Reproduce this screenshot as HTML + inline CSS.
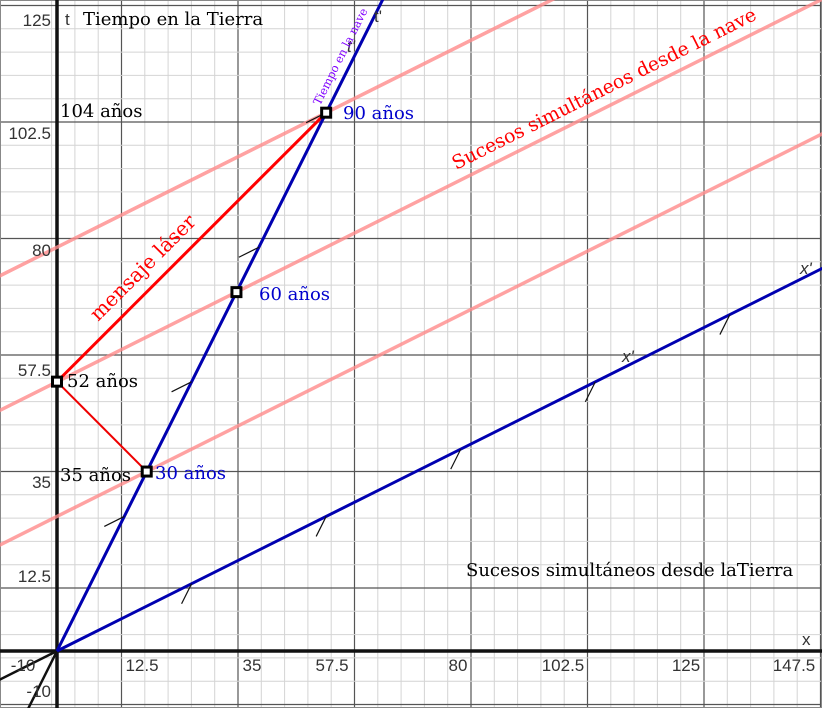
<!DOCTYPE html>
<html><head><meta charset="utf-8"><style>
body{margin:0;background:#fff}
svg{display:block}
.tk{font-family:"Liberation Sans",sans-serif;font-size:17px;fill:#333}
.sf{font-family:"DejaVu Serif","Liberation Serif",serif;font-size:18px}
</style></head><body>
<svg id="c" width="822" height="708" viewBox="0 0 822 708">
<g id="grid"></g>
<g id="marks"></g>
<g id="labels"></g>
</svg>
<script>
const velocity = [0.5];
const properTimes = [30, 60, 90];
const simulLabels = ["30 años","60 años","90 años"];
const xTicks = [-10,12.5,35,57.5,80,102.5,125,147.5];
const yTicks = [-10,12.5,35,57.5,80,102.5,125];
const tickStep = [22.5];
const earthEvents = [52, 104, 35];

const NS="http://www.w3.org/2000/svg";
const ox=57, oy=651, k=5.18;
const X=x=>ox+x*k, Y=t=>oy-t*k;
const g=document.getElementById('grid'), m=document.getElementById('marks'), L=document.getElementById('labels');
function el(p,tag,a){const e=document.createElementNS(NS,tag);for(const q in a)e.setAttribute(q,a[q]);p.appendChild(e);return e;}
function line(p,x1,y1,x2,y2,st,w){return el(p,'line',{x1,y1,x2,y2,stroke:st,'stroke-width':w});}
for(let i=-3;i<40;i++){const px=121.5+i*23.3; if(px<0||px>822)continue;
 const l=line(g,px,0,px,708,i%5==0?'#555':'#d4d4d4',i%5==0?1.2:1);
 
 }
for(let i=-6;i<30;i++){const py=122+i*23.3; if(py<0||py>708)continue;
 const l=line(g,0,py,822,py,i%5==0?'#555':'#d4d4d4',i%5==0?1.2:1);
 
 }
el(g,'rect',{x:0.5,y:0.5,width:821,height:707,fill:'none',stroke:'#888','stroke-width':1});
let a=line(g,ox,0,ox,708,'#111',3.5);
a=line(g,0,oy,822,oy,'#111',3.5);

const v=velocity[0], gam=1/Math.sqrt(1-v*v);
const ev=tau=>({t:tau*gam,x:tau*gam*v});
properTimes.forEach(tau=>{const e=ev(tau);const c=e.t-v*e.x;
 const l=line(m,X(-12),Y(c+v*-12),X(160),Y(c+v*160),'#ff8c8c',3.5);l.setAttribute('opacity','0.8');
 
 });
line(m,X(0),Y(0),X(-12),Y(-12*v),'#111',2.5);
line(m,X(0),Y(0),X(-12*v),Y(-12),'#111',2.5);
const e1={t:earthEvents[0],x:0}, e2=ev(properTimes[2]), e3=ev(properTimes[0]);
let r=line(m,X(0),Y(e1.t),X(e2.x),Y(e2.t),'#f00',3);
r=line(m,X(0),Y(e1.t),X(e3.x),Y(e3.t),'#e00',2);
let b=line(m,X(0),Y(0),X(130*v),Y(130),'#0000b0',3);
b=line(m,X(0),Y(0),X(160),Y(160*v),'#0000b0',3);
const st=tickStep[0];
for(let n=1;n<=6;n++){const tau=n*st;const e=ev(tau);
 if(e.t<125){const px=X(e.x),py=Y(e.t);const tk=line(m,px,py,px-20,py+10,'#111',1.2);}
 const px=X(e.t),py=Y(e.x);if(px<815){const tk=line(m,px,py,px-10,py+20,'#111',1.2);}}
[e1,ev(properTimes[0]),ev(properTimes[1]),ev(properTimes[2])].forEach(e=>{
 const s=el(m,'rect',{x:X(e.x)-4.5,y:Y(e.t)-4.5,width:9,height:9,fill:'#fff',stroke:'#000','stroke-width':3});
 
 });
function txt(p,x,y,s,cls,extra){const t=el(p,'text',Object.assign({x,y,class:cls},extra||{}));t.textContent=s;return t;}
const xLabelX=[23,142,252,332,458,563,686,794];
xTicks.forEach((v2,i)=>{const t=txt(L,xLabelX[i],671,String(v2),'tk',{'text-anchor':'middle'});});
const yLabelY=[697,582,488,376,256,139,26];
yTicks.forEach((v2,i)=>{const t=txt(L,51,yLabelY[i],String(v2),'tk',{'text-anchor':'end'});});
function lab(x,y,s,fill,name,extra,cls,style){const t=txt(L,x,y,s,cls||'sf',Object.assign({fill},extra||{}));if(style)t.setAttribute('style',style);return t;}
lab(65,25,'t','#111','t-axis-label',{},'tk');
lab(83,25,'Tiempo en la Tierra','#000','earth-time-title');
lab(802,645,'x','#111','x-axis-label',{},'tk');
lab(374,22,"t'",'#111','t-prime-label',{},'tk');
lab(800,274,"x'",'#111','x-prime-label',{'font-style':'italic'},'tk');
lab(622,362,"x'",'#111','x-prime-label-2',{'font-style':'italic'},'tk');
lab(347,52,"t'",'#111','t-prime-label-2',{'font-style':'italic'},'tk');
lab(60,117,'104 años','#000','label-104');
lab(67,387,'52 años','#000','label-52');
lab(60,481,'35 años','#000','label-35');
const lp=[[155,479],[259,300],[343,119]];
properTimes.forEach((p,i)=>lab(lp[i][0],lp[i][1],simulLabels[i],'#00c','proper-time-label'));
lab(466,576,'Sucesos simultáneos desde laTierra','#000','earth-simultaneity-label');
lab(456,170,'Sucesos simultáneos desde la nave','#f00','ship-simultaneity-label',{transform:'rotate(-26.6 456 170)'},'sf','font-size:19px');
lab(98,322,'mensaje láser','#f00','laser-label',{transform:'rotate(-45 98 322)'},'sf','font-size:20px');
lab(320,106,'Tiempo en la nave','#8000ff','ship-time-label',{transform:'rotate(-63.4 320 106)'},'sf','font-size:11.5px');
</script>
</body></html>
